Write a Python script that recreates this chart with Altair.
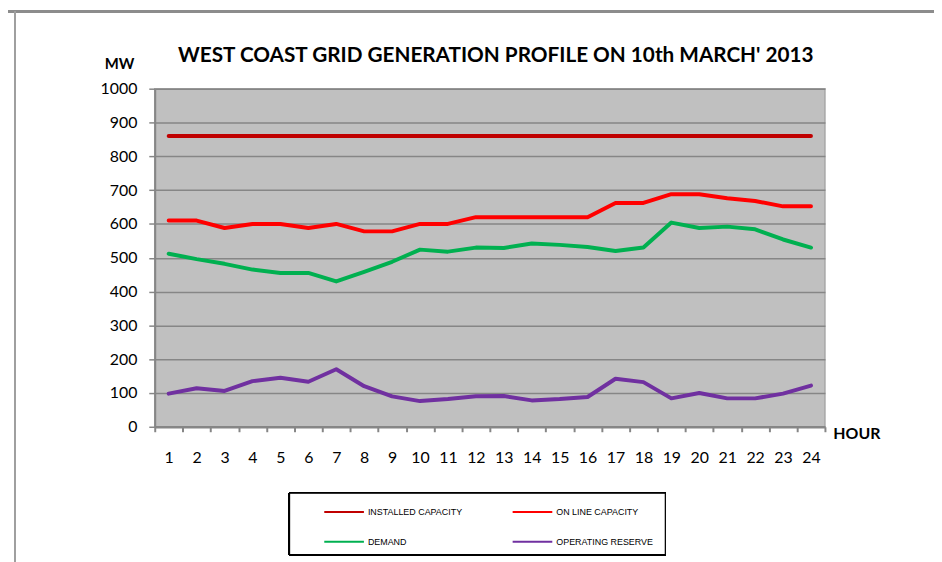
import altair as alt
import pandas as pd

hours = list(range(1, 25))
series_names = ["INSTALLED CAPACITY", "ON LINE CAPACITY", "DEMAND", "OPERATING RESERVE"]
series_colors = ["#C00000", "#FF0000", "#00B050", "#7030A0"]

installed = [860] * 24
online = [610, 610, 588, 600, 600, 588, 600, 578, 578, 600, 600, 620,
          620, 620, 620, 620, 662, 662, 688, 688, 676, 668, 652, 652]
demand = [512, 496, 482, 465, 455, 455, 430, 458, 488, 524, 518, 530,
          529, 542, 538, 532, 520, 530, 604, 588, 592, 584, 554, 530]
reserve = [98, 114, 106, 135, 145, 133, 170, 120, 90, 76, 82, 90,
           91, 78, 82, 88, 142, 132, 84, 100, 84, 84, 98, 122]
y_ticks = list(range(0, 1001, 100))

title_text = "WEST COAST GRID GENERATION PROFILE ON 10th MARCH' 2013"

rows = []
for name, vals in zip(series_names, [installed, online, demand, reserve]):
    for h, v in zip(hours, vals):
        rows.append({"hour": h, "MW": v, "series": name})
df = pd.DataFrame(rows)

W, H = 676, 341

lines = alt.Chart(df).mark_line(strokeWidth=4, strokeCap="round", strokeJoin="round").encode(
    x=alt.X("hour:O", bandPosition=0.5,
            scale=alt.Scale(type="band", paddingInner=0, paddingOuter=0),
            axis=alt.Axis(title="HOUR", labelAngle=0, tickBand="extent", grid=False,
                          domainColor="#868686", domainWidth=2.5,
                          tickColor="#868686", tickWidth=2, tickSize=5,
                          labelFont="Lato", labelFontSize=16, labelColor="#000000",
                          labelPadding=18,
                          titleFont="Lato", titleFontSize=16, titleFontWeight="bold",
                          titleColor="#000000", titleAngle=0, titleAlign="left",
                          titleBaseline="middle", titleX=684, titleY=7)),
    y=alt.Y("MW:Q",
            scale=alt.Scale(domain=[0, 1000], nice=False),
            axis=alt.Axis(title="MW", values=y_ticks, format="d", grid=True,
                          gridColor="#868686", gridWidth=1.5,
                          domainColor="#868686", domainWidth=2,
                          tickColor="#868686", tickWidth=1.5, tickSize=6,
                          labelFont="Lato", labelFontSize=16, labelColor="#000000",
                          labelPadding=12,
                          titleFont="Lato", titleFontSize=15, titleFontWeight="bold",
                          titleColor="#000000", titleAngle=0, titleAlign="center",
                          titleBaseline="middle", titleX=-36, titleY=-25)),
    color=alt.Color("series:N",
                    scale=alt.Scale(domain=series_names, range=series_colors),
                    sort=series_names,
                    legend=alt.Legend(orient="none", legendX=170, legendY=406,
                                      title=None, columns=2, direction="horizontal",
                                      symbolType="stroke", symbolStrokeWidth=2,
                                      symbolSize=1600, labelOffset=3,
                                      labelFont="Liberation Sans Narrow, Liberation Sans",
                                      labelFontSize=9, labelColor="#000000",
                                      columnPadding=46, rowPadding=4, padding=0)),
)

box = alt.Chart(df).mark_rect(fill="white", stroke="black", strokeWidth=1.2).encode(
    x=alt.value(136), x2=alt.value(515), y=alt.value(408), y2=alt.value(470)
)
top_frame = alt.Chart(df).mark_rule(color="#8c8c8c", strokeWidth=2).encode(
    x=alt.value(-148), x2=alt.value(790), y=alt.value(-78)
)
left_frame = alt.Chart(df).mark_rule(color="#a0a0a0", strokeWidth=1.5).encode(
    x=alt.value(-141), y=alt.value(-78), y2=alt.value(480)
)
title = alt.Chart(pd.DataFrame({"t": [title_text]})).mark_text(
    font="Lato", fontSize=20.9, fontWeight="bold", color="#000000",
    align="center", baseline="alphabetic"
).encode(text="t:N", x=alt.value(344), y=alt.value(-27))

chart = alt.layer(box, top_frame, left_frame, title, lines).properties(
    width=W, height=H,
    background="white",
    autosize=alt.AutoSizeParams(type="none"),
    padding={"left": 148, "top": 79, "right": 110, "bottom": 134},
).configure_view(
    fill="#C0C0C0", stroke="#A6A6A6", strokeWidth=1.5
)

chart.save("out.html", embed_options={"renderer": "svg", "actions": False})
